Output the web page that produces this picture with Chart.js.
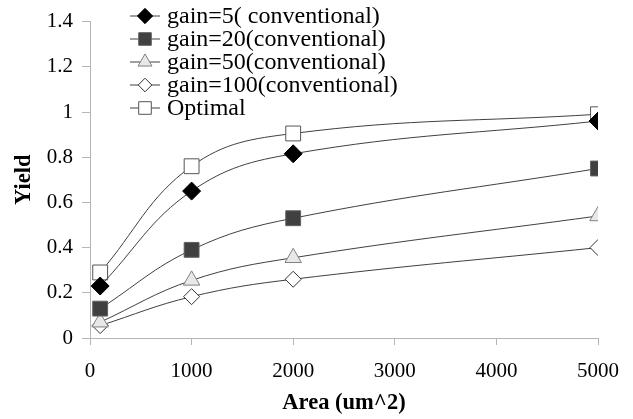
<!DOCTYPE html>
<html>
<head>
<meta charset="utf-8">
<script src="https://cdn.jsdelivr.net/npm/chart.js@4/dist/chart.umd.min.js"></script>
<style>
  html, body { margin: 0; padding: 0; background: #fff; }
  #wrap { width: 633px; height: 419px; position: relative; }
</style>
</head>
<body>
<div id="wrap"><canvas id="c" width="633" height="419"></canvas></div>
<script>
// Area sweep (um^2) and yield for each gain setting
const areas = [100, 1000, 2000, 5000];
const gain5 = [0.23, 0.65, 0.815, 0.96];
const gain20 = [0.13, 0.39, 0.53, 0.75];
const gain50 = [0.07, 0.255, 0.355, 0.54];
const gain100 = [0.055, 0.183, 0.26, 0.4];
const optimal = [0.29, 0.76, 0.905, 0.99];

const seriesNames = [
  'gain=5( conventional)',
  'gain=20(conventional)',
  'gain=50(conventional)',
  'gain=100(conventional)',
  'Optimal'
];
const xTicks = [0, 1000, 2000, 3000, 4000, 5000];
const yTicks = [0, 0.2, 0.4, 0.6, 0.8, 1, 1.2, 1.4];

const FONT = '"Liberation Serif", "Times New Roman", serif';

const styles = [
  { pointStyle: 'rectRot', radius: 9, bg: '#000000', border: '#000000' },
  { pointStyle: 'rect', radius: 10.5, bg: '#404040', border: '#606060' },
  { pointStyle: 'triangle', radius: 9.5, bg: '#e8e8e8', border: '#808080' },
  { pointStyle: 'rectRot', radius: 8, bg: '#ffffff', border: '#333333' },
  { pointStyle: 'rect', radius: 10.5, bg: '#ffffff', border: '#555555' }
];

const values = [gain5, gain20, gain50, gain100, optimal];

const datasets = values.map((vals, i) => ({
  label: seriesNames[i],
  data: areas.map((a, k) => ({ x: a, y: vals[k] })),
  borderColor: '#404040',
  borderWidth: 1,
  tension: 0.4,
  fill: false,
  pointStyle: styles[i].pointStyle,
  pointRadius: styles[i].radius,
  pointHoverRadius: styles[i].radius,
  pointBackgroundColor: styles[i].bg,
  pointBorderColor: styles[i].border,
  pointBorderWidth: 1
}));

// Legend drawn inside the plot, top-left, with line + marker samples
const insetLegend = {
  id: 'insetLegend',
  afterDraw(chart) {
    const ctx = chart.ctx;
    ctx.save();
    ctx.font = '24px ' + FONT;
    ctx.textBaseline = 'middle';
    seriesNames.forEach((name, i) => {
      const y = 16 + i * 23;
      ctx.strokeStyle = '#404040';
      ctx.lineWidth = 1;
      ctx.beginPath();
      ctx.moveTo(130, y);
      ctx.lineTo(160, y);
      ctx.stroke();
      ctx.fillStyle = styles[i].bg;
      ctx.strokeStyle = styles[i].border;
      Chart.helpers.drawPoint(ctx, {
        pointStyle: styles[i].pointStyle,
        radius: styles[i].radius * 0.85,
        rotation: 0,
        borderWidth: 1
      }, 145, y);
      ctx.fillStyle = '#000';
      ctx.fillText(name, 167, y + 1);
    });
    ctx.restore();
  }
};

new Chart(document.getElementById('c'), {
  type: 'line',
  data: { datasets },
  plugins: [insetLegend],
  options: {
    responsive: false,
    animation: false,
    events: [],
    layout: { padding: { left: 0, right: 34, top: 16, bottom: 0 } },
    plugins: { legend: { display: false }, tooltip: { enabled: false } },
    scales: {
      x: {
        type: 'linear',
        min: 0,
        max: 5000,
        afterBuildTicks(scale) { scale.ticks = xTicks.map(v => ({ value: v })); },
        afterFit(scale) { scale.height = 81; },
        border: { color: '#b5b5b5', width: 1 },
        grid: { drawOnChartArea: false, tickLength: 7, color: '#b5b5b5' },
        ticks: {
          color: '#000',
          font: { family: FONT, size: 21 },
          padding: 14,
          maxRotation: 0,
          callback: v => String(v)
        },
        title: {
          display: true,
          text: 'Area (um^2)',
          color: '#000',
          font: { family: FONT, size: 22.5, weight: 'bold' },
          padding: { top: 0, bottom: 2 }
        }
      },
      y: {
        min: 0,
        max: 1.4,
        afterBuildTicks(scale) { scale.ticks = yTicks.map(v => ({ value: v })); },
        afterFit(scale) { scale.width = 90; },
        border: { color: '#b5b5b5', width: 1 },
        grid: { drawOnChartArea: false, tickLength: 8, color: '#b5b5b5' },
        ticks: {
          color: '#000',
          font: { family: FONT, size: 21 },
          padding: 9,
          callback: v => String(Math.round(v * 10) / 10)
        },
        title: {
          display: true,
          text: 'Yield',
          color: '#000',
          font: { family: FONT, size: 22.5, weight: 'bold' },
          padding: { top: 11, bottom: 0 }
        }
      }
    }
  }
});
</script>
</body>
</html>
